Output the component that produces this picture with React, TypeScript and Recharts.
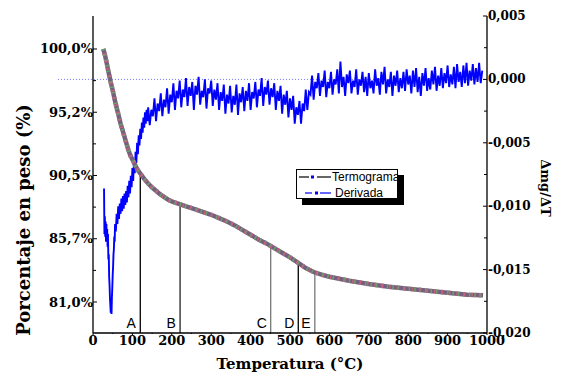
import { LineChart, Line, XAxis, YAxis, ReferenceLine, Legend, Label } from "recharts";

// temperatura (°C) vs porcentaje en peso (%)
const termograma: [number, number][] = [
  [26, 100.0], [30, 99.6], [35, 98.9], [40, 98.2], [45, 97.5], [50, 96.9], [55, 96.2],
  [60, 95.6], [65, 95.0], [70, 94.4], [75, 93.9], [80, 93.4], [85, 92.9], [90, 92.4],
  [95, 92.0], [100, 91.7], [105, 91.4], [110, 91.1], [115, 90.85], [120, 90.65],
  [130, 90.25], [140, 89.9], [150, 89.6], [160, 89.35], [170, 89.1], [180, 88.9],
  [190, 88.7], [200, 88.55], [210, 88.45], [220, 88.35], [240, 88.15], [260, 87.95],
  [280, 87.75], [300, 87.55], [320, 87.3], [340, 87.05], [360, 86.75], [380, 86.4],
  [400, 86.05], [420, 85.7], [440, 85.4], [460, 85.05], [480, 84.7], [500, 84.35],
  [520, 83.95], [540, 83.55], [560, 83.25], [580, 83.05], [600, 82.9], [650, 82.6],
  [700, 82.35], [750, 82.15], [800, 82.0], [850, 81.85], [900, 81.7], [950, 81.55],
  [990, 81.5],
];

// temperatura (°C) vs Δmg/ΔT (x 1e-4)
const derivada: [number, number][] = [
  [28, -86], [29, -122], [30, -108], [31, -124], [32, -112], [33, -128], [34, -114],
  [35, -127], [36, -118], [37, -132], [38, -122], [39, -142], [40, -138], [41, -156],
  [42, -162], [43, -172], [44, -178], [45, -184], [46, -180], [47, -185], [48, -172],
  [49, -164], [50, -154], [51, -148], [52, -138], [53, -134], [54, -124], [55, -128],
  [56, -114], [58, -120], [60, -106], [62, -114], [64, -100], [66, -110], [68, -98],
  [70, -106], [72, -94], [74, -104], [76, -92], [78, -102], [80, -90], [82, -99],
  [84, -88], [86, -97], [88, -84], [90, -93], [92, -80], [94, -90], [96, -76],
  [98, -85], [100, -70], [102, -80], [104, -64], [106, -74], [108, -57], [110, -66],
  [112, -50], [114, -59], [116, -44], [118, -52], [120, -39], [122, -47], [124, -34],
  [126, -42], [128, -30], [130, -38], [132, -26], [134, -35], [136, -24], [138, -33],
  [140, -22], [144, -36], [148, -24], [152, -29], [156, -15], [160, -33], [164, -19],
  [168, -25], [172, -11], [176, -29], [180, -16], [184, -22], [188, -7], [192, -27],
  [196, -12], [200, -18], [204, -3], [208, -24], [212, -9], [216, -15], [220, -1],
  [224, -22], [228, -8], [232, -14], [236, 1], [240, -21], [244, -6], [248, -13],
  [252, -2], [256, -24], [260, -5], [264, -12], [268, 2], [272, -20], [276, -9],
  [280, -14], [284, 0], [288, -23], [292, -7], [296, -11], [300, -1], [304, -21],
  [308, -8], [312, -16], [316, -3], [320, -24], [324, -10], [328, -17], [332, -4],
  [336, -27], [340, -12], [344, -19], [348, -5], [352, -26], [356, -13], [360, -20],
  [364, -4], [368, -28], [372, -11], [376, -18], [380, -6], [384, -25], [388, -9],
  [392, -17], [396, -3], [400, -24], [404, -10], [408, -15], [412, -2], [416, -22],
  [420, -8], [424, -13], [428, 1], [432, -21], [436, -6], [440, -12], [444, -1],
  [448, -20], [452, -7], [456, -14], [460, -3], [464, -24], [468, -9], [472, -17],
  [476, -5], [480, -27], [484, -12], [488, -20], [492, -9], [496, -30], [500, -15],
  [504, -24], [508, -13], [512, -35], [516, -22], [520, -28], [524, -17], [528, -35],
  [532, -19], [536, -25], [540, -8], [544, -24], [548, -10], [552, -12], [556, 3],
  [560, -16], [564, -2], [568, -7], [572, 5], [576, -13], [580, -1], [584, -6],
  [588, 7], [592, -14], [596, -2], [600, -7], [604, 6], [608, -12], [612, 0],
  [616, -4], [620, 8], [624, -11], [628, 14], [632, -6], [636, 2], [640, -13],
  [644, 4], [648, -3], [652, 7], [656, -11], [660, -1], [664, -6], [668, 8],
  [672, -12], [676, 0], [680, -5], [684, 6], [688, -10], [692, 2], [696, -13],
  [700, 5], [704, -7], [708, -1], [712, -11], [716, 8], [720, -5], [724, 1],
  [728, -12], [732, 6], [736, -4], [740, 10], [744, -11], [748, 0], [752, -6],
  [756, 6], [760, -13], [764, 3], [768, -5], [772, 7], [776, -10], [780, 1],
  [784, -7], [788, 6], [792, -9], [796, 8], [800, -4], [804, 3], [808, -11],
  [812, 7], [816, -6], [820, 9], [824, -10], [828, 2], [832, -13], [836, 5],
  [840, -5], [844, 9], [848, -9], [852, 1], [856, -8], [860, 7], [864, -4],
  [868, 10], [872, -9], [876, 3], [880, -5], [884, 9], [888, -7], [892, 5],
  [896, -3], [900, 11], [904, -6], [908, 4], [912, -4], [916, 10], [920, -7],
  [924, 12], [928, -2], [932, 6], [936, -6], [940, 11], [944, -3], [948, 13],
  [952, -5], [956, 7], [960, -1], [964, 12], [968, -4], [972, 9], [976, -2],
  [980, 13], [984, -3], [988, 7],
];

// etapas marcadas sobre el termograma
const etapas = [
  { name: "A", temp: 120, peso: 90.65 },
  { name: "B", temp: 221, peso: 88.34 },
  { name: "C", temp: 451, peso: 85.2 },
  { name: "D", temp: 521, peso: 83.93 },
  { name: "E", temp: 563, peso: 83.2 },
];
const etapaColor = ["#000", "#222", "#777", "#000", "#777"];

const tempTicks = [0, 50, 100, 150, 200, 250, 300, 350, 400, 450, 500, 550, 600, 650, 700, 750, 800, 850, 900, 950, 1000];
const pesoTicks = [100, 97.625, 95.25, 92.875, 90.5, 88.125, 85.75, 83.375, 81];
const pesoLabels = [
  { v: 100, label: "100,0%" },
  { v: 95.25, label: "95,2%" },
  { v: 90.5, label: "90,5%" },
  { v: 85.75, label: "85,7%" },
  { v: 81, label: "81,0%" },
];
const derivTicks = [50, 25, 0, -25, -50, -75, -100, -125, -150, -175, -200];
const derivLabels = [
  { v: 50, label: "0,005" },
  { v: 0, label: "0,000" },
  { v: -50, label: "-0,005" },
  { v: -100, label: "-0,010" },
  { v: -150, label: "-0,015" },
  { v: -200, label: "-0,020" },
];

const tgData = termograma.map(([t, p]) => ({ t, p }));
const dtgData = derivada.map(([t, d]) => ({ t, d }));

const SERIF = "'DejaVu Serif', serif";
const SANS = "'Liberation Sans', Arial, sans-serif";
const PESO_MIN = 78.672;
const PESO_MAX = 102.478;

const findLabel = (list: { v: number; label: string }[], v: number) =>
  list.find((x) => Math.abs(x.v - v) < 1e-6)?.label;

function BottomTick({ x, y, payload }: any) {
  const major = payload.value % 100 === 0;
  return (
    <g>
      <line x1={x} x2={x} y1={y} y2={y + (major ? 2 : 1)} stroke="#000" />
      {major && (
        <text x={x} y={y + 12} textAnchor="middle" fontFamily={SERIF} fontWeight="bold" fontSize={13} fill="#000">
          {payload.value}
        </text>
      )}
    </g>
  );
}

function TopTick({ x, y, payload }: any) {
  const major = payload.value % 100 === 0;
  return <line x1={x} x2={x} y1={y} y2={y + (major ? 3 : 2)} stroke="#000" />;
}

function LeftTick({ x, y, payload }: any) {
  const lab = findLabel(pesoLabels, payload.value);
  return (
    <g>
      <line x1={x} x2={x + (lab ? 4 : 3)} y1={y} y2={y} stroke="#000" />
      {lab && (
        <text x={x} y={y + 4.5} textAnchor="end" fontFamily={SERIF} fontWeight="bold" fontSize={13} fill="#000">
          {lab}
        </text>
      )}
    </g>
  );
}

function RightTick({ x, y, payload }: any) {
  const lab = findLabel(derivLabels, payload.value);
  return (
    <g>
      <line x1={x - (lab ? 4 : 3)} x2={x} y1={y} y2={y} stroke="#000" />
      {lab && (
        <text x={x + 1} y={y + 4} textAnchor="start" fontFamily={SERIF} fontWeight="bold" fontSize={12} fill="#000">
          {lab}
        </text>
      )}
    </g>
  );
}

function EtapaShape(props: any) {
  const { x1, y1, x2, y2, name, color } = props;
  return (
    <g>
      <line x1={x1} y1={y1} x2={x2} y2={y2} stroke={color} strokeWidth={1.3} />
      <text x={x1 - 9} y={y1 - 5} textAnchor="middle" fontFamily={SANS} fontSize={14} fill="#000">
        {name}
      </text>
    </g>
  );
}

function LeyendaBox() {
  const row = (first: string, color: string, text: string, textLeft: number, top: number) => (
    <div style={{ position: "absolute", left: 0, top, height: 14, width: "100%" }}>
      <svg width={40} height={14} style={{ position: "absolute", left: 0, top: 0 }}>
        <line x1={first === "long" ? 2 : 8} x2={first === "long" ? 12 : 15} y1={7} y2={7} stroke={color} strokeWidth={1.2} />
        <rect x={first === "long" ? 14 : 18} y={5.5} width={3} height={3} fill="#0000ff" />
        <line x1={first === "long" ? 20 : 23} x2={34} y1={7} y2={7} stroke={color} strokeWidth={1.2} />
      </svg>
      <span style={{ position: "absolute", left: textLeft, top: 0, fontFamily: SANS, fontSize: 12, lineHeight: "14px", color: "#000", whiteSpace: "nowrap" }}>
        {text}
      </span>
    </div>
  );
  return (
    <div style={{ position: "relative", width: 110, height: 38, textAlign: "left" }}>
      <div style={{ position: "absolute", left: 6, top: 6, width: 102, height: 30, background: "#000" }} />
      <div style={{ position: "absolute", left: 0, top: 0, width: 100, height: 28, border: "1px solid #000", background: "#fff" }}>
        {row("long", "#000", "Termograma", 35, 0)}
        {row("short", "#0000ff", "Derivada", 38, 16)}
      </div>
    </div>
  );
}

export default function App() {
  return (
    <div style={{ position: "absolute", left: 0, top: 0, width: 563, height: 374, background: "#fff" }}>
      <LineChart width={563} height={374} margin={{ top: 16, right: 0, bottom: 0, left: 0 }}>
        <XAxis
          dataKey="t"
          type="number"
          domain={[0, 1000]}
          ticks={tempTicks}
          interval={0}
          height={41}
          tickSize={0}
          tickMargin={0}
          tickLine={false}
          axisLine={{ stroke: "#000", strokeWidth: 1.3 }}
          tick={<BottomTick />}
          allowDataOverflow
        >
          <Label
            content={() => (
              <text x={290} y={369} textAnchor="middle" fontFamily={SERIF} fontWeight="bold" fontSize={15} fill="#000">
                Temperatura (°C)
              </text>
            )}
          />
        </XAxis>
        <XAxis
          xAxisId="top"
          orientation="top"
          dataKey="t"
          type="number"
          domain={[0, 1000]}
          ticks={tempTicks}
          interval={0}
          height={0}
          tickSize={0}
          tickMargin={0}
          tickLine={false}
          axisLine={{ stroke: "#000", strokeWidth: 1.3 }}
          tick={<TopTick />}
        />
        <YAxis
          yAxisId="left"
          type="number"
          domain={[PESO_MIN, PESO_MAX]}
          ticks={pesoTicks}
          interval={0}
          width={93}
          tickSize={0}
          tickMargin={0}
          tickLine={false}
          axisLine={{ stroke: "#000", strokeWidth: 1.3 }}
          tick={<LeftTick />}
          allowDataOverflow
        >
          <Label
            content={() => (
              <text
                x={30}
                y={220}
                transform="rotate(-90 30 220)"
                textAnchor="middle"
                fontFamily={SERIF}
                fontWeight="bold"
                fontSize={18}
                fill="#000"
              >
                Porcentaje en peso (%)
              </text>
            )}
          />
        </YAxis>
        <YAxis
          yAxisId="right"
          orientation="right"
          type="number"
          domain={[-200, 50]}
          ticks={derivTicks}
          interval={0}
          width={76}
          tickSize={0}
          tickMargin={0}
          tickLine={false}
          axisLine={{ stroke: "#000", strokeWidth: 1.3 }}
          tick={<RightTick />}
          allowDataOverflow
        >
          <Label
            content={() => (
              <text
                x={541}
                y={188}
                transform="rotate(90 541 188)"
                textAnchor="middle"
                fontFamily={SERIF}
                fontWeight="bold"
                fontSize={13}
                fill="#000"
              >
                Δmg/ΔT
              </text>
            )}
          />
        </YAxis>

        <ReferenceLine
          yAxisId="right"
          segment={[{ x: -89, y: 0 }, { x: 1000, y: 0 }]}
          ifOverflow="visible"
          stroke="#7070ff"
          strokeWidth={1}
          strokeDasharray="1 2"
        />

        {etapas.map((e, i) => (
          <ReferenceLine
            key={e.name}
            yAxisId="left"
            segment={[{ x: e.temp, y: PESO_MIN }, { x: e.temp, y: e.peso }]}
            ifOverflow="visible"
            shape={(p: any) => <EtapaShape {...p} name={e.name} color={etapaColor[i]} />}
          />
        ))}

        <Line
          yAxisId="right"
          data={dtgData}
          dataKey="d"
          stroke="#0000ff"
          strokeWidth={1.9}
          strokeLinejoin="miter"
          dot={false}
          isAnimationActive={false}
          legendType="none"
        />
        <Line
          yAxisId="left"
          data={tgData}
          dataKey="p"
          stroke="#75607f"
          strokeWidth={4.5}
          dot={false}
          isAnimationActive={false}
          legendType="none"
        />
        <Line
          yAxisId="left"
          data={tgData}
          dataKey="p"
          stroke="#6fa06a"
          strokeWidth={4.5}
          strokeDasharray="1.5 4"
          dot={false}
          isAnimationActive={false}
          legendType="none"
        />
        <Line
          yAxisId="left"
          data={tgData}
          dataKey="p"
          stroke="#c4607e"
          strokeWidth={4.5}
          strokeDasharray="1.5 6"
          strokeDashoffset={3}
          dot={false}
          isAnimationActive={false}
          legendType="none"
        />
        <Legend
          layout="horizontal"
          verticalAlign="middle"
          align="center"
          content={() => <LeyendaBox />}
          wrapperStyle={{ position: "absolute", left: 296, top: 169, width: 110, height: 38, bottom: "auto", right: "auto" }}
        />
      </LineChart>
    </div>
  );
}
